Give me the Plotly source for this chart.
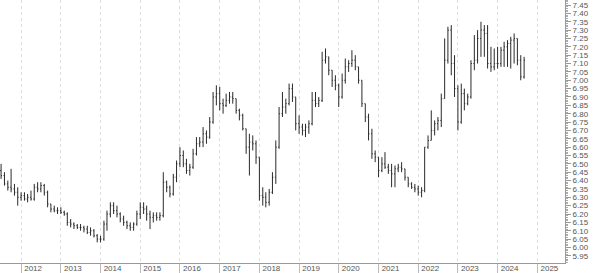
import pandas as pd
import plotly.graph_objects as go

# Monthly bars, Jul 2011 .. Sep 2024
dates = pd.date_range("2011-07-01", "2024-09-01", freq="MS")

open_ = [
    6.46, 6.43, 6.38, 6.36, 6.35, 6.33,                                   # 2011 H2
    6.30, 6.31, 6.29, 6.30, 6.29, 6.36, 6.35, 6.37, 6.33, 6.26, 6.23, 6.22,  # 2012
    6.22, 6.21, 6.20, 6.15, 6.14, 6.13, 6.12, 6.12, 6.11, 6.09, 6.10, 6.07,  # 2013
    6.05, 6.05, 6.14, 6.20, 6.25, 6.22, 6.20, 6.17, 6.15, 6.13, 6.12, 6.14,  # 2014
    6.20, 6.24, 6.23, 6.20, 6.18, 6.19, 6.18, 6.19, 6.39, 6.36, 6.32, 6.42,  # 2015
    6.50, 6.55, 6.50, 6.46, 6.48, 6.56, 6.62, 6.63, 6.68, 6.66, 6.75, 6.90,  # 2016
    6.92, 6.86, 6.85, 6.88, 6.90, 6.89, 6.82, 6.79, 6.71, 6.60, 6.63, 6.62,  # 2017
    6.54, 6.31, 6.30, 6.27, 6.33, 6.42, 6.60, 6.80, 6.84, 6.86, 6.95, 6.90,  # 2018
    6.74, 6.72, 6.70, 6.72, 6.74, 6.88, 6.86, 6.88, 7.12, 7.14, 7.06, 7.00,  # 2019
    6.97, 6.90, 7.00, 7.08, 7.10, 7.12, 7.08, 7.00, 6.86, 6.78, 6.68, 6.56,  # 2020
    6.54, 6.46, 6.50, 6.48, 6.46, 6.44, 6.47, 6.48, 6.47, 6.42, 6.38, 6.36,  # 2021
    6.35, 6.33, 6.34, 6.60, 6.64, 6.70, 6.74, 6.76, 6.89, 7.12, 7.30, 7.10,  # 2022
    6.95, 6.75, 6.92, 6.86, 6.90, 7.10, 7.12, 7.25, 7.30, 7.28, 7.10, 7.08,  # 2023
    7.10, 7.10, 7.18, 7.20, 7.22, 7.24, 7.25, 7.12, 7.02,                    # 2024
]
high = [
    6.50, 6.45, 6.40, 6.47, 6.38, 6.36,
    6.33, 6.33, 6.32, 6.34, 6.38, 6.39, 6.39, 6.38, 6.34, 6.26, 6.25, 6.24,
    6.24, 6.22, 6.21, 6.17, 6.15, 6.14, 6.14, 6.13, 6.13, 6.12, 6.11, 6.08,
    6.07, 6.16, 6.22, 6.27, 6.27, 6.25, 6.21, 6.19, 6.16, 6.15, 6.15, 6.22,
    6.27, 6.27, 6.25, 6.22, 6.21, 6.21, 6.21, 6.45, 6.40, 6.37, 6.44, 6.52,
    6.60, 6.58, 6.53, 6.50, 6.59, 6.66, 6.66, 6.72, 6.70, 6.78, 6.93, 6.97,
    6.96, 6.89, 6.92, 6.93, 6.93, 6.89, 6.83, 6.80, 6.71, 6.68, 6.67, 6.64,
    6.54, 6.36, 6.33, 6.35, 6.45, 6.64, 6.84, 6.93, 6.89, 6.98, 6.98, 6.90,
    6.79, 6.74, 6.74, 6.76, 6.93, 6.93, 6.90, 7.17, 7.19, 7.14, 7.06, 7.03,
    6.98, 7.04, 7.13, 7.12, 7.18, 7.15, 7.08, 7.00, 6.86, 6.80, 6.71, 6.58,
    6.54, 6.54, 6.57, 6.50, 6.50, 6.49, 6.50, 6.51, 6.47, 6.42, 6.39, 6.38,
    6.37, 6.36, 6.60, 6.67, 6.82, 6.76, 6.78, 6.92, 7.25, 7.32, 7.33, 7.15,
    6.97, 6.98, 6.95, 6.92, 7.12, 7.27, 7.30, 7.35, 7.33, 7.33, 7.20, 7.19,
    7.20, 7.20, 7.23, 7.24, 7.26, 7.28, 7.25, 7.15, 7.14,
]
low = [
    6.41, 6.37, 6.34, 6.33, 6.31, 6.25,
    6.28, 6.28, 6.27, 6.28, 6.28, 6.33, 6.33, 6.31, 6.24, 6.21, 6.21, 6.20,
    6.20, 6.19, 6.13, 6.12, 6.11, 6.11, 6.10, 6.09, 6.08, 6.07, 6.06, 6.03,
    6.03, 6.04, 6.10, 6.18, 6.20, 6.18, 6.15, 6.13, 6.11, 6.10, 6.10, 6.13,
    6.17, 6.20, 6.16, 6.11, 6.15, 6.16, 6.16, 6.18, 6.33, 6.30, 6.31, 6.39,
    6.48, 6.48, 6.44, 6.43, 6.47, 6.55, 6.60, 6.60, 6.62, 6.65, 6.74, 6.85,
    6.82, 6.80, 6.84, 6.86, 6.86, 6.80, 6.76, 6.70, 6.56, 6.43, 6.58, 6.50,
    6.28, 6.25, 6.24, 6.25, 6.32, 6.38, 6.59, 6.78, 6.80, 6.85, 6.87, 6.70,
    6.68, 6.67, 6.66, 6.68, 6.73, 6.84, 6.84, 6.87, 7.10, 7.03, 6.96, 6.94,
    6.84, 6.89, 6.98, 7.05, 7.08, 7.06, 6.98, 6.84, 6.75, 6.64, 6.53, 6.51,
    6.42, 6.45, 6.47, 6.44, 6.36, 6.36, 6.45, 6.45, 6.40, 6.36, 6.35, 6.33,
    6.31, 6.30, 6.33, 6.59, 6.64, 6.67, 6.70, 6.72, 6.89, 7.10, 7.03, 6.90,
    6.70, 6.74, 6.82, 6.85, 6.89, 7.06, 7.10, 7.14, 7.14, 7.07, 7.05, 7.06,
    7.07, 7.08, 7.08, 7.08, 7.07, 7.10, 7.09, 7.00, 7.01,
]
close = [
    6.43, 6.38, 6.36, 6.35, 6.33, 6.30,
    6.31, 6.29, 6.30, 6.29, 6.36, 6.35, 6.37, 6.33, 6.26, 6.23, 6.22, 6.22,
    6.21, 6.20, 6.15, 6.14, 6.13, 6.12, 6.12, 6.11, 6.09, 6.10, 6.07, 6.05,
    6.05, 6.14, 6.20, 6.25, 6.22, 6.20, 6.17, 6.15, 6.13, 6.12, 6.14, 6.20,
    6.24, 6.23, 6.20, 6.18, 6.19, 6.18, 6.19, 6.39, 6.36, 6.32, 6.42, 6.50,
    6.55, 6.50, 6.46, 6.48, 6.56, 6.62, 6.63, 6.68, 6.66, 6.75, 6.90, 6.92,
    6.86, 6.85, 6.88, 6.90, 6.89, 6.82, 6.79, 6.71, 6.60, 6.63, 6.62, 6.54,
    6.31, 6.30, 6.27, 6.33, 6.42, 6.60, 6.80, 6.84, 6.86, 6.95, 6.90, 6.74,
    6.72, 6.70, 6.72, 6.74, 6.88, 6.86, 6.88, 7.12, 7.14, 7.06, 7.00, 6.97,
    6.90, 7.00, 7.08, 7.10, 7.12, 7.08, 7.00, 6.86, 6.78, 6.68, 6.56, 6.54,
    6.46, 6.50, 6.48, 6.46, 6.44, 6.47, 6.48, 6.47, 6.42, 6.38, 6.36, 6.35,
    6.33, 6.34, 6.60, 6.64, 6.70, 6.74, 6.76, 6.89, 7.12, 7.30, 7.10, 6.95,
    6.75, 6.92, 6.86, 6.90, 7.10, 7.12, 7.25, 7.30, 7.28, 7.10, 7.08, 7.10,
    7.10, 7.18, 7.20, 7.22, 7.24, 7.25, 7.12, 7.02, 7.12,
]

year_ticks = [f"{y}-01-01" for y in range(2012, 2026)]
year_labels = [str(y) for y in range(2012, 2026)]

bar_line = dict(color="#2a2a2a", width=1)
fig = go.Figure(go.Ohlc(
    x=dates, open=open_, high=high, low=low, close=close,
    increasing=dict(line=bar_line), decreasing=dict(line=bar_line),
    tickwidth=0.3, hoverinfo="skip", showlegend=False,
))

axis_font = dict(family="Liberation Sans, Arial, sans-serif", size=8, color="#555")
fig.update_layout(
    width=594, height=273,
    margin=dict(l=0, r=29, t=0, b=10),
    paper_bgcolor="white", plot_bgcolor="white",
    showlegend=False,
    xaxis=dict(
        type="date", range=["2011-06-21", "2025-09-12"],
        rangeslider=dict(visible=False),
        tickmode="array", tickvals=year_ticks, ticktext=year_labels,
        showgrid=True, gridcolor="#dddddd", griddash="dot", gridwidth=1,
        ticks="outside", ticklen=10, tickcolor="#bbb",
        showline=True, linecolor="#999", linewidth=1, mirror=True,
        tickfont=axis_font, ticklabelshift=12, ticklabelstandoff=-13,
        automargin=False, zeroline=False,
    ),
    yaxis=dict(
        side="right", range=[5.907, 7.480],
        tick0=5.95, dtick=0.05, tickformat=".2f",
        ticks="outside", ticklen=5, tickcolor="#999",
        minor=dict(dtick=0.01, ticks="outside", ticklen=2, tickcolor="#aaa", showgrid=False),
        showline=True, linecolor="#999", linewidth=1, mirror=True,
        showgrid=False, zeroline=False,
        tickfont=axis_font, automargin=False,
    ),
)

fig.write_html("out.html")
